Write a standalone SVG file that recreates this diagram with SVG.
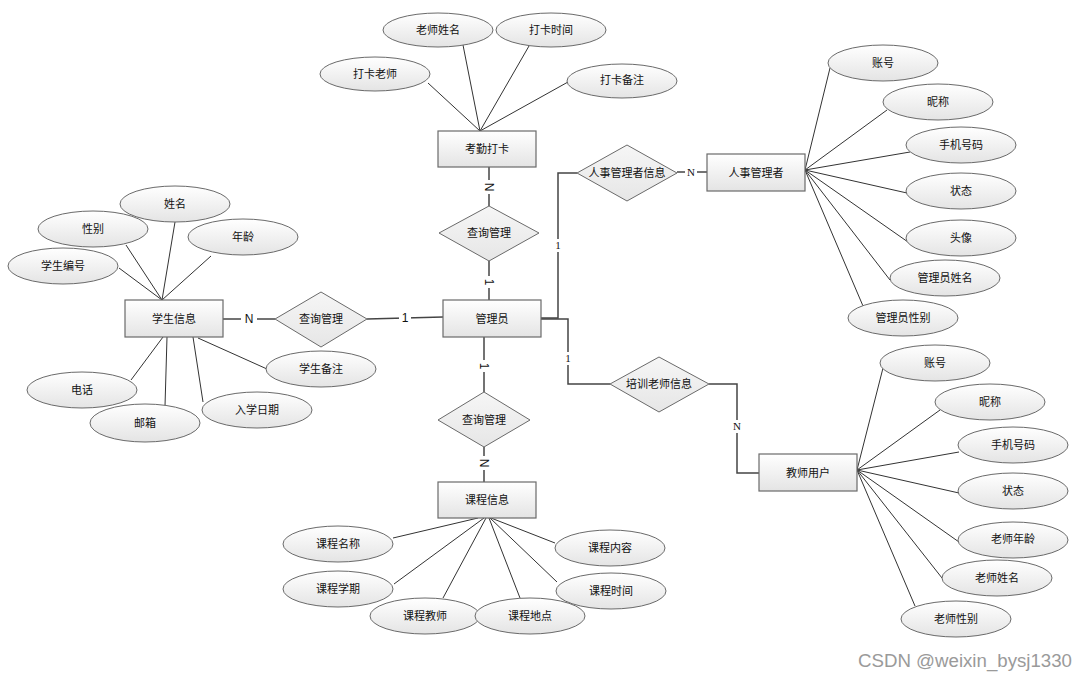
<svg xmlns="http://www.w3.org/2000/svg" width="1088" height="681" viewBox="0 0 1088 681">
<defs>
<linearGradient id="g" x1="0" y1="0" x2="0" y2="1"><stop offset="0" stop-color="#ffffff"/><stop offset="1" stop-color="#e4e4e4"/></linearGradient>
<linearGradient id="gd" x1="0" y1="0" x2="0" y2="1"><stop offset="0" stop-color="#f6f6f6"/><stop offset="1" stop-color="#e6e6e6"/></linearGradient>
</defs>
<style>
.e{fill:url(#g);stroke:#6a6a6a;stroke-width:1}
.r{fill:url(#g);stroke:#6a6a6a;stroke-width:1.2}
.d{fill:url(#gd);stroke:#6a6a6a;stroke-width:1}
.l{stroke:#333;stroke-width:1;fill:none}
.c{stroke:#444;stroke-width:1.5;fill:none}
text{font-family:"Liberation Sans","Noto Sans CJK SC",sans-serif;font-size:11px;fill:#111;text-anchor:middle;dominant-baseline:central}
.s{font-family:"Liberation Serif","Noto Sans CJK SC",serif;font-size:11px}
.n{font-size:12px}
.w{font-size:18px;fill:#9a9a9a;text-anchor:start;dominant-baseline:auto}
</style>
<rect width="1088" height="681" fill="#fff"/>
<g id="connectors">
<line class="l" x1="428" y1="83" x2="480" y2="131"/>
<line class="l" x1="463" y1="45" x2="480" y2="131"/>
<line class="l" x1="529" y1="46" x2="480" y2="131"/>
<line class="l" x1="568" y1="82" x2="480" y2="131"/>
<line class="l" x1="126" y1="245" x2="162" y2="300"/>
<line class="l" x1="175" y1="222" x2="162" y2="300"/>
<line class="l" x1="211" y1="256" x2="162" y2="300"/>
<line class="l" x1="119" y1="268" x2="162" y2="300"/>
<line class="l" x1="198" y1="338" x2="267" y2="369"/>
<line class="l" x1="163" y1="337" x2="131" y2="380"/>
<line class="l" x1="167" y1="337" x2="165" y2="406"/>
<line class="l" x1="193" y1="337" x2="203" y2="402"/>
<line class="l" x1="393" y1="538" x2="478" y2="518"/>
<line class="l" x1="394" y1="584" x2="484" y2="518"/>
<line class="l" x1="443" y1="598" x2="486" y2="518"/>
<line class="l" x1="520" y1="598" x2="489" y2="518"/>
<line class="l" x1="555" y1="543" x2="491" y2="518"/>
<line class="l" x1="557" y1="582" x2="490" y2="518"/>
<line class="l" x1="830" y1="68" x2="805" y2="170"/>
<line class="l" x1="887" y1="110" x2="805" y2="170"/>
<line class="l" x1="910" y1="152" x2="805" y2="170"/>
<line class="l" x1="907" y1="193" x2="805" y2="170"/>
<line class="l" x1="908" y1="242" x2="805" y2="170"/>
<line class="l" x1="890" y1="280" x2="805" y2="170"/>
<line class="l" x1="863" y1="306" x2="805" y2="170"/>
<line class="l" x1="883" y1="368" x2="857" y2="470"/>
<line class="l" x1="940" y1="410" x2="857" y2="470"/>
<line class="l" x1="959" y1="452" x2="857" y2="470"/>
<line class="l" x1="959" y1="493" x2="857" y2="470"/>
<line class="l" x1="959" y1="542" x2="857" y2="470"/>
<line class="l" x1="942" y1="578" x2="857" y2="470"/>
<line class="l" x1="915" y1="606" x2="857" y2="470"/>
<line class="c" x1="489" y1="167" x2="489" y2="206"/>
<line class="c" x1="489" y1="261" x2="489" y2="300"/>
<line class="c" x1="223" y1="319" x2="275" y2="319"/>
<line class="c" x1="367" y1="319" x2="443" y2="317"/>
<polyline class="c" points="541,318 558,318 558,173 577,173"/>
<line class="c" x1="677" y1="172" x2="707" y2="172"/>
<polyline class="c" points="541,319 568,319 568,384 610,384"/>
<polyline class="c" points="709,384 737,384 737,473 759,473"/>
<line class="c" x1="484" y1="337" x2="484" y2="392"/>
<line class="c" x1="484" y1="447" x2="484" y2="482"/>
</g>
<g id="labels">
<rect x="482" y="180" width="14" height="14" fill="#fff"/>
<text x="489" y="187" class="n" transform="rotate(90 489 187)">N</text>
<rect x="482" y="276" width="14" height="12" fill="#fff"/>
<text x="489" y="282" class="n" transform="rotate(90 489 282)">1</text>
<rect x="241" y="312" width="16" height="14" fill="#fff"/>
<text x="249" y="319" class="n">N</text>
<rect x="399" y="311" width="12" height="14" fill="#fff"/>
<text x="405" y="318" class="n">1</text>
<rect x="553" y="239" width="10" height="13" fill="#fff"/>
<text x="558" y="245" class="s">1</text>
<rect x="685" y="166" width="12" height="13" fill="#fff"/>
<text x="691" y="172" class="s">N</text>
<rect x="563" y="352" width="10" height="13" fill="#fff"/>
<text x="568" y="358" class="s">1</text>
<rect x="731" y="420" width="12" height="13" fill="#fff"/>
<text x="737" y="426" class="s">N</text>
<rect x="477" y="360" width="14" height="12" fill="#fff"/>
<text x="484" y="366" class="n" transform="rotate(90 484 366)">1</text>
<rect x="477" y="456" width="14" height="14" fill="#fff"/>
<text x="484" y="463" class="n" transform="rotate(90 484 463)">N</text>
</g>
<g id="kaoqin"><rect class="r" x="438" y="131" width="98" height="36"/><text x="487" y="149">考勤打卡</text></g>
<g id="a-teachername"><ellipse class="e" cx="438" cy="30" rx="55" ry="17"/><text x="438" y="30">老师姓名</text></g>
<g id="a-time"><ellipse class="e" cx="551" cy="30" rx="55" ry="17"/><text x="551" y="30">打卡时间</text></g>
<g id="a-teacher"><ellipse class="e" cx="375" cy="74" rx="55" ry="17"/><text x="375" y="74">打卡老师</text></g>
<g id="a-note"><ellipse class="e" cx="622" cy="81" rx="55" ry="17"/><text x="622" y="80">打卡备注</text></g>
<g id="rel-top"><polygon class="d" points="489,206 539,233 489,261 439,233"/><text x="489" y="233">查询管理</text></g>
<g id="admin"><rect class="r" x="443" y="300" width="98" height="37"/><text x="492" y="319">管理员</text></g>
<g id="student"><rect class="r" x="125" y="300" width="98" height="37"/><text x="174" y="319">学生信息</text></g>
<g id="rel-left"><polygon class="d" points="321,292 367,319 321,347 275,319"/><text x="321" y="319">查询管理</text></g>
<g id="s-name"><ellipse class="e" cx="175" cy="204" rx="55" ry="18"/><text x="175" y="204">姓名</text></g>
<g id="s-sex"><ellipse class="e" cx="93" cy="229" rx="55" ry="18"/><text x="93" y="229">性别</text></g>
<g id="s-age"><ellipse class="e" cx="243" cy="237" rx="55" ry="18"/><text x="243" y="237">年龄</text></g>
<g id="s-no"><ellipse class="e" cx="63" cy="266" rx="55" ry="18"/><text x="63" y="266">学生编号</text></g>
<g id="s-note"><ellipse class="e" cx="321" cy="369" rx="55" ry="18"/><text x="321" y="369">学生备注</text></g>
<g id="s-phone"><ellipse class="e" cx="82" cy="390" rx="55" ry="18"/><text x="82" y="390">电话</text></g>
<g id="s-mail"><ellipse class="e" cx="145" cy="423" rx="55" ry="19"/><text x="145" y="423">邮箱</text></g>
<g id="s-date"><ellipse class="e" cx="257" cy="410" rx="55" ry="18"/><text x="257" y="410">入学日期</text></g>
<g id="rel-hr"><polygon class="d" points="627,145 677,173 627,201 577,173"/><text x="627" y="173">人事管理者信息</text></g>
<g id="hr"><rect class="r" x="707" y="154" width="98" height="37"/><text x="756" y="173">人事管理者</text></g>
<g id="h-acc"><ellipse class="e" cx="883" cy="63" rx="55" ry="18"/><text x="883" y="63">账号</text></g>
<g id="h-nick"><ellipse class="e" cx="938" cy="102" rx="55" ry="18"/><text x="938" y="102">昵称</text></g>
<g id="h-phone"><ellipse class="e" cx="961" cy="145" rx="55" ry="18"/><text x="961" y="145">手机号码</text></g>
<g id="h-state"><ellipse class="e" cx="961" cy="191" rx="55" ry="18"/><text x="961" y="191">状态</text></g>
<g id="h-avatar"><ellipse class="e" cx="961" cy="238" rx="55" ry="18"/><text x="961" y="238">头像</text></g>
<g id="h-name"><ellipse class="e" cx="945" cy="278" rx="55" ry="18"/><text x="945" y="278">管理员姓名</text></g>
<g id="h-sex"><ellipse class="e" cx="903" cy="318" rx="55" ry="18"/><text x="903" y="318">管理员性别</text></g>
<g id="rel-teacher"><polygon class="d" points="659,357 709,384 659,412 610,384"/><text x="659" y="384">培训老师信息</text></g>
<g id="teacher"><rect class="r" x="759" y="454" width="98" height="37"/><text x="808" y="473">教师用户</text></g>
<g id="t-acc"><ellipse class="e" cx="935" cy="363" rx="55" ry="18"/><text x="935" y="363">账号</text></g>
<g id="t-nick"><ellipse class="e" cx="990" cy="402" rx="55" ry="18"/><text x="990" y="402">昵称</text></g>
<g id="t-phone"><ellipse class="e" cx="1013" cy="445" rx="55" ry="18"/><text x="1013" y="445">手机号码</text></g>
<g id="t-state"><ellipse class="e" cx="1013" cy="491" rx="55" ry="18"/><text x="1013" y="491">状态</text></g>
<g id="t-age"><ellipse class="e" cx="1013" cy="540" rx="55" ry="18"/><text x="1013" y="539">老师年龄</text></g>
<g id="t-name"><ellipse class="e" cx="997" cy="578" rx="55" ry="18"/><text x="997" y="578">老师姓名</text></g>
<g id="t-sex"><ellipse class="e" cx="956" cy="619" rx="55" ry="18"/><text x="956" y="619">老师性别</text></g>
<g id="rel-bottom"><polygon class="d" points="484,392 530,420 484,447 438,420"/><text x="484" y="420">查询管理</text></g>
<g id="course"><rect class="r" x="438" y="482" width="98" height="36"/><text x="487" y="500">课程信息</text></g>
<g id="c-name"><ellipse class="e" cx="338" cy="544" rx="55" ry="18"/><text x="338" y="544">课程名称</text></g>
<g id="c-term"><ellipse class="e" cx="338" cy="589" rx="55" ry="18"/><text x="338" y="589">课程学期</text></g>
<g id="c-teacher"><ellipse class="e" cx="425" cy="616" rx="55" ry="18"/><text x="425" y="616">课程教师</text></g>
<g id="c-place"><ellipse class="e" cx="530" cy="616" rx="55" ry="18"/><text x="530" y="616">课程地点</text></g>
<g id="c-content"><ellipse class="e" cx="610" cy="548" rx="55" ry="18"/><text x="610" y="548">课程内容</text></g>
<g id="c-time"><ellipse class="e" cx="611" cy="591" rx="55" ry="18"/><text x="611" y="591">课程时间</text></g>
<text x="858" y="667" class="w" textLength="214" lengthAdjust="spacingAndGlyphs">CSDN @weixin_bysj1330</text>
</svg>
